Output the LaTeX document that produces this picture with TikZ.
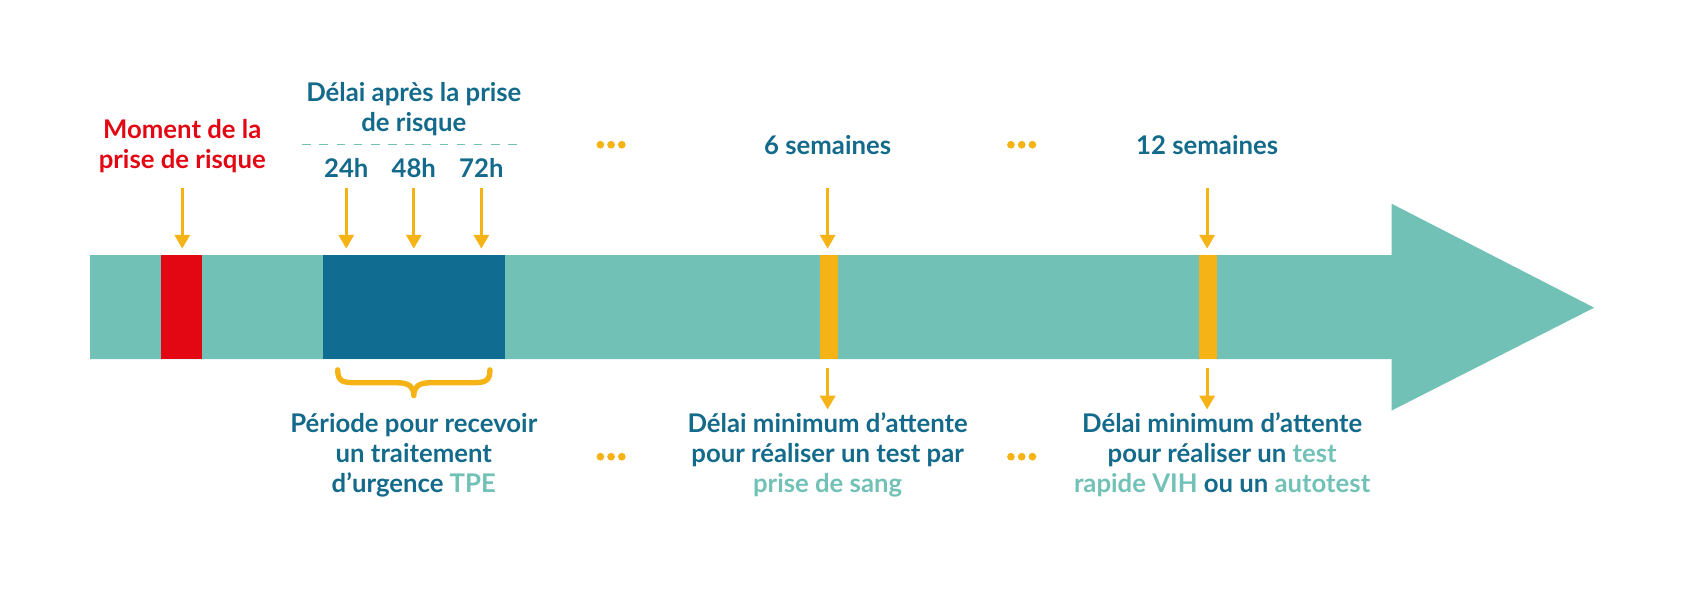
\documentclass[tikz,border=0pt]{standalone}
\usepackage{fontspec}
\setmainfont{Lato}
\usetikzlibrary{arrows.meta}
\definecolor{tlTeal}{HTML}{72C1B6}
\definecolor{tlDark}{HTML}{106C91}
\definecolor{tlRed}{HTML}{E30613}
\definecolor{tlOrange}{HTML}{F5B316}
\definecolor{tlText}{HTML}{136A8A}
\tikzset{
  lbl/.style={font=\bfseries\fontsize{24}{28}\selectfont, text=tlText, align=center, inner sep=0pt},
  tick/.style={draw=tlOrange, line width=3pt, -{Triangle[width=14pt,length=13pt]}},
}
\begin{document}
\begin{tikzpicture}[x=1pt,y=-1pt]
\useasboundingbox (0,0) rectangle (1568,572);
% main arrow
\fill[tlTeal] (84,238) -- (1298,238) -- (1298,190) -- (1487,287) -- (1298,383) -- (1298,335) -- (84,335) -- cycle;
\fill[tlRed] (150,238) rectangle (188,335);
\fill[tlDark] (301,238) rectangle (471,335);
\fill[tlOrange] (765,238) rectangle (782,335);
\fill[tlOrange] (1118,238) rectangle (1135,335);
% top labels
\node[lbl, text=tlRed, anchor=north] (moment) at (170,111) {Moment de la\\prise de risque};
\node[lbl, anchor=north] (delai) at (386,77) {Délai après la prise\\de risque};
\draw[tlTeal, line width=1pt, dash pattern=on 8pt off 8pt] (282,135) -- (490,135);
\node[lbl, anchor=base] (h24) at (323,166) {24h};
\node[lbl, anchor=base] (h48) at (386,166) {48h};
\node[lbl, anchor=base] (h72) at (449,166) {72h};
\node[lbl, anchor=base] (s6) at (772,144) {6 semaines};
\node[lbl, anchor=base] (s12) at (1126,144) {12 semaines};
% arrows above
\coordinate (a0) at (170,175); \coordinate (b0) at (170,232);
\coordinate (a1) at (323,175); \coordinate (b1) at (323,232);
\coordinate (a2) at (386,175); \coordinate (b2) at (386,232);
\coordinate (a3) at (449,175); \coordinate (b3) at (449,232);
\coordinate (a4) at (772,175); \coordinate (b4) at (772,232);
\coordinate (a5) at (1126,175); \coordinate (b5) at (1126,232);
\foreach \i in {0,...,5} \draw[tick] (a\i) -- (b\i);
% arrows below
\coordinate (c4) at (772,343); \coordinate (d4) at (772,382);
\coordinate (c5) at (1126,343); \coordinate (d5) at (1126,382);
\draw[tick] (c4) -- (d4);
\draw[tick] (c5) -- (d5);
% brace
\draw[tlOrange, line width=5pt, line cap=round, line join=round]
  (315,345) .. controls (315,356) and (320,357) .. (332,357) -- (370,357)
  .. controls (382,357) and (386,361) .. (386,369)
  .. controls (386,361) and (390,357) .. (402,357) -- (440,357)
  .. controls (452,357) and (457,356) .. (457,345);
% dots
\foreach \x in {560,570,580} {\fill[tlOrange] (\x,135) circle (3.6pt); \fill[tlOrange] (\x,426) circle (3.6pt);}
\foreach \x in {943,953,963} {\fill[tlOrange] (\x,135) circle (3.6pt); \fill[tlOrange] (\x,426) circle (3.6pt);}
% bottom labels
\node[lbl, anchor=north] (periode) at (386,385) {Période pour recevoir\\un traitement\\d’urgence \textcolor{tlTeal}{TPE}};
\node[lbl, anchor=north] (sang) at (772,385) {Délai minimum d’attente\\pour réaliser un test par\\\textcolor{tlTeal}{prise de sang}};
\node[lbl, anchor=north] (rapide) at (1140,385) {Délai minimum d’attente\\pour réaliser un \textcolor{tlTeal}{test}\\\textcolor{tlTeal}{rapide VIH} ou un \textcolor{tlTeal}{autotest}};
\end{tikzpicture}
\end{document}
